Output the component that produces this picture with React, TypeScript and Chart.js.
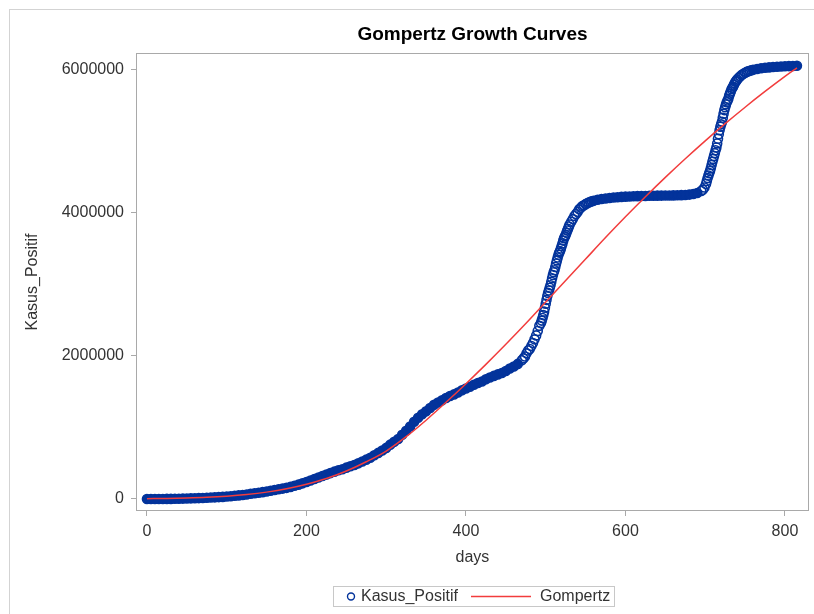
import React, { useEffect, useRef } from 'react';
import { Chart, registerables } from 'chart.js';

Chart.register(...registerables);

// ---- Data ----
const chartTitle = 'Gompertz Growth Curves';
const xAxisTitle = 'days';
const yAxisTitle = 'Kasus_Positif';
const observedLabel = 'Kasus_Positif';
const fittedLabel = 'Gompertz';

const xTickValues = [0, 200, 400, 600, 800];
const yTickValues = [0, 2000000, 4000000, 6000000];

// observed cumulative positive cases (denser sampling where the curve is steep)
const posDays = [
  0, 5, 10, 15, 20, 25, 30, 35, 40, 45,
  50, 55, 60, 65, 70, 75, 80, 85, 90, 95,
  100, 105, 110, 115, 120, 125, 130, 135, 140, 145,
  150, 155, 160, 165, 170, 175, 180, 185, 190, 195,
  200, 205, 210, 215, 220, 225, 230, 235, 240, 245,
  250, 255, 260, 265, 270, 275, 280, 285, 290, 295,
  300, 305, 310, 315, 320, 325, 330, 335, 340, 345,
  350, 355, 360, 365, 370, 375, 380, 385, 390, 395,
  400, 405, 410, 415, 420, 425, 430, 435, 440, 445,
  450, 455, 460, 465, 470,
  472, 474, 476, 478, 480, 482, 484, 486, 488, 490, 492,
  494, 495, 496, 497, 498, 499, 500, 501, 502, 503,
  504, 505, 506, 507, 508, 509, 510, 511, 512, 513,
  514, 515, 516, 517, 518, 519, 520, 521, 522, 523,
  524, 525, 526, 527, 528, 529, 530,
  532, 534, 536, 538, 540, 542, 544, 546, 548, 550, 552, 554, 556, 558, 560,
  565, 570, 575, 580, 585, 590, 595, 600, 605, 610,
  615, 620, 625, 630, 635, 640, 645, 650, 655, 660,
  665, 670, 675, 680, 685, 690, 695,
  697, 699, 701, 702, 703,
  704, 705, 706, 707, 708, 709, 710, 711, 712, 713,
  714, 715, 716, 717, 718, 719, 720, 721, 722, 723,
  724, 725, 726, 727, 728, 729, 730, 731, 732, 733,
  734, 735, 736, 737, 738, 739, 740,
  742, 744, 746, 748, 750, 752, 754, 756, 758, 760,
  765, 770, 775, 780, 785, 790, 795, 800, 805, 810, 815,
];

const posCases = [
  2, 4, 34, 172, 514, 1046, 1677, 2491, 3842, 5516,
  7135, 8882, 10551, 12438, 14265, 17025, 20162, 23165, 26473, 29521,
  34316, 39294, 45029, 50187, 56385, 63749, 72347, 80094, 88214, 95418,
  104432, 115056, 125396, 135123, 144945, 155412, 169195, 184268, 200035, 218382,
  236519, 257388, 278722, 299506, 320564, 340622, 361867, 381910, 400483, 415402,
  437716, 457735, 474455, 497668, 522581, 549508, 575796, 611631, 643508, 678125,
  713365, 758473, 797723, 836718, 896642, 951651, 1012350, 1078314, 1134854, 1183555,
  1223930, 1271353, 1314634, 1347026, 1379662, 1410134, 1437283, 1460184, 1487541, 1517854,
  1542516, 1566995, 1594722, 1620569, 1641194, 1672880, 1697305, 1718575, 1739750, 1758898,
  1786187, 1821703, 1850206, 1885942, 1937652,
  1963266, 1989909, 2033421, 2072867, 2093962, 2135998, 2178272, 2228938, 2284084, 2345018, 2417788,
  2455912, 2491006, 2527203, 2567630, 2615529, 2670046, 2726803, 2780803, 2832755, 2877476,
  2911733, 2950058, 2983830, 3033339, 3082410, 3127826, 3166505, 3194733, 3239936, 3287727,
  3331206, 3372374, 3409658, 3440396, 3462800, 3496700, 3532567, 3568331, 3607863, 3639616,
  3666031, 3686740, 3718821, 3749446, 3774155, 3804943, 3833541,
  3871738, 3908247, 3950304, 3979456, 4008166, 4043736, 4066404, 4089801, 4100138, 4116890, 4129020, 4140634, 4150000, 4158000, 4165000,
  4178000, 4188000, 4196000, 4203000, 4209000, 4214000, 4218000, 4221000, 4224000, 4226000,
  4228000, 4230000, 4231000, 4233000, 4234000, 4235000, 4236000, 4237000, 4238000, 4239000,
  4240000, 4242000, 4245000, 4250000, 4258000, 4272000, 4300000,
  4318000, 4350000, 4398000, 4440000, 4480000,
  4516480, 4549310, 4580093, 4616319, 4662558, 4708043, 4748375, 4788439, 4828769, 4870000,
  4907000, 4965000, 5030000, 5093000, 5150000, 5198000, 5231000, 5266000, 5323000, 5380000,
  5430000, 5470000, 5509000, 5539000, 5564000, 5589000, 5630000, 5660000, 5690000, 5720000,
  5740000, 5760000, 5785000, 5805000, 5826000, 5840000, 5856000,
  5880000, 5903000, 5922000, 5938000, 5952000, 5963000, 5972000, 5980000, 5987000, 5993000,
  6004000, 6013000, 6020000, 6026000, 6031000, 6035000, 6038000, 6041000, 6044000, 6046000, 6048000,
];

// fitted Gompertz curve
const gompDays = [
  0, 25, 50, 75, 100, 125, 150, 175, 200, 225,
  250, 275, 300, 325, 350, 375, 400, 425, 450, 475,
  500, 525, 550, 575, 600, 625, 650, 675, 700, 725,
  750, 775, 800, 815,
];
const gompValues = [
  4000, 8000, 14000, 24000, 40000, 63000, 96000, 142000, 205000, 285000,
  390000, 520000, 670000, 870000, 1100000, 1350000, 1610000, 1880000, 2160000, 2450000,
  2750000, 3050000, 3350000, 3650000, 3940000, 4220000, 4490000, 4750000, 5000000, 5240000,
  5470000, 5690000, 5900000, 6020000,
];

// ---- Styles ----
const BLUE = '#03339b';
const RED = '#f23c3c';
const FONT = "'Liberation Sans', Arial, sans-serif";
const TEXT = '#333333';
const AXIS = '#a9a9a9';

export default function App() {
  const ref = useRef<HTMLCanvasElement | null>(null);

  useEffect(() => {
    const canvas = ref.current;
    if (!canvas) return;

    const observed = posDays.map((d, i) => ({ x: d, y: posCases[i] }));
    const fitted = gompDays.map((d, i) => ({ x: d, y: gompValues[i] }));

    const sasPlugin = {
      id: 'sasFrame',
      beforeDraw(chart: any) {
        const { ctx } = chart;
        ctx.save();
        ctx.fillStyle = '#ffffff';
        ctx.fillRect(0, 0, chart.width, chart.height);
        ctx.strokeStyle = '#d3d3d3';
        ctx.lineWidth = 1;
        ctx.strokeRect(9.5, 9.5, chart.width + 20, chart.height + 20);
        ctx.restore();
      },
      afterDraw(chart: any) {
        const { ctx, chartArea: a } = chart;
        ctx.save();
        ctx.strokeStyle = AXIS;
        ctx.lineWidth = 1;
        ctx.strokeRect(Math.round(a.left) - 0.5, Math.round(a.top) - 0.5,
          Math.round(a.right - a.left) + 1, Math.round(a.bottom - a.top) + 1);

        // title centred over the plot area
        ctx.font = `bold 19px ${FONT}`;
        ctx.fillStyle = '#000000';
        ctx.textAlign = 'center';
        ctx.textBaseline = 'middle';
        ctx.fillText(chartTitle, (a.left + a.right) / 2, 35);

        // legend with border
        const ly = 596.5;
        ctx.strokeStyle = '#c8c8c8';
        ctx.lineWidth = 1;
        ctx.strokeRect(333.5, 586.5, 281, 20);
        ctx.beginPath();
        ctx.arc(351, ly, 3.5, 0, Math.PI * 2);
        ctx.strokeStyle = BLUE;
        ctx.lineWidth = 1.4;
        ctx.stroke();
        ctx.font = `16px ${FONT}`;
        ctx.fillStyle = TEXT;
        ctx.textBaseline = 'middle';
        ctx.textAlign = 'left';
        ctx.fillText(chart.data.datasets[1].label, 361, ly + 0.5);
        ctx.beginPath();
        ctx.moveTo(471, ly);
        ctx.lineTo(531, ly);
        ctx.strokeStyle = RED;
        ctx.lineWidth = 1.5;
        ctx.stroke();
        ctx.fillText(chart.data.datasets[0].label, 540, ly + 0.5);
        ctx.restore();
      },
    };

    const fillDense = (c: any) => {
      const i = c.dataIndex;
      if (i === undefined) return 'rgba(0,0,0,0)';
      const gap = i < posDays.length - 1 ? posDays[i + 1] - posDays[i] : posDays[i] - posDays[i - 1];
      return gap >= 5 ? BLUE : 'rgba(255,255,255,0)';
    };

    const chart = new Chart(canvas, {
      type: 'scatter',
      data: {
        datasets: [
          {
            type: 'line',
            label: fittedLabel,
            data: fitted,
            borderColor: RED,
            borderWidth: 1.5,
            pointRadius: 0,
            cubicInterpolationMode: 'monotone',
            fill: false,
            order: 0,
          } as any,
          {
            type: 'scatter',
            label: observedLabel,
            data: observed,
            borderColor: BLUE,
            borderWidth: 1.6,
            pointRadius: 4.5,
            pointStyle: 'circle',
            backgroundColor: fillDense,
            showLine: false,
            order: 1,
          } as any,
        ],
      },
      options: {
        responsive: false,
        devicePixelRatio: 1,
        animation: false,
        layout: { padding: { left: 0, right: 4, top: 54, bottom: 0 } },
        plugins: {
          legend: { display: false },
          tooltip: { enabled: false },
          title: { display: false },
        },
        scales: {
          x: {
            type: 'linear',
            min: -12.5,
            max: 828.75,
            afterBuildTicks: (s: any) => { s.ticks = xTickValues.map((v) => ({ value: v })); },
            afterFit: (s: any) => { s.height = 104; },
            ticks: {
              color: TEXT,
              font: { size: 16, family: FONT },
              padding: 6.4,
              maxRotation: 0,
              callback: (v: any) => String(v),
            },
            grid: { drawOnChartArea: false, drawTicks: true, tickLength: 6, color: AXIS },
            border: { display: false },
            title: {
              display: true,
              text: xAxisTitle,
              color: TEXT,
              font: { size: 16, family: FONT },
              padding: { top: 0, bottom: 46.4 },
            },
          },
          y: {
            type: 'linear',
            min: -153600,
            max: 6213000,
            afterBuildTicks: (s: any) => { s.ticks = yTickValues.map((v) => ({ value: v })); },
            afterFit: (s: any) => { s.width = 137; },
            ticks: {
              color: TEXT,
              font: { size: 16, family: FONT },
              padding: 7,
              callback: (v: any) => String(v),
            },
            grid: { drawOnChartArea: false, drawTicks: true, tickLength: 6, color: AXIS },
            border: { display: false },
            title: {
              display: true,
              text: yAxisTitle,
              color: TEXT,
              font: { size: 16, family: FONT },
              padding: { top: 23.4, bottom: 0 },
            },
          },
        },
      } as any,
      plugins: [sasPlugin],
    });

    return () => chart.destroy();
  }, []);

  return (
    <div style={{ position: 'fixed', left: 0, top: 0, width: 814, height: 614, background: '#fff' }}>
      <canvas ref={ref} width={814} height={614} style={{ display: 'block' }} />
    </div>
  );
}
